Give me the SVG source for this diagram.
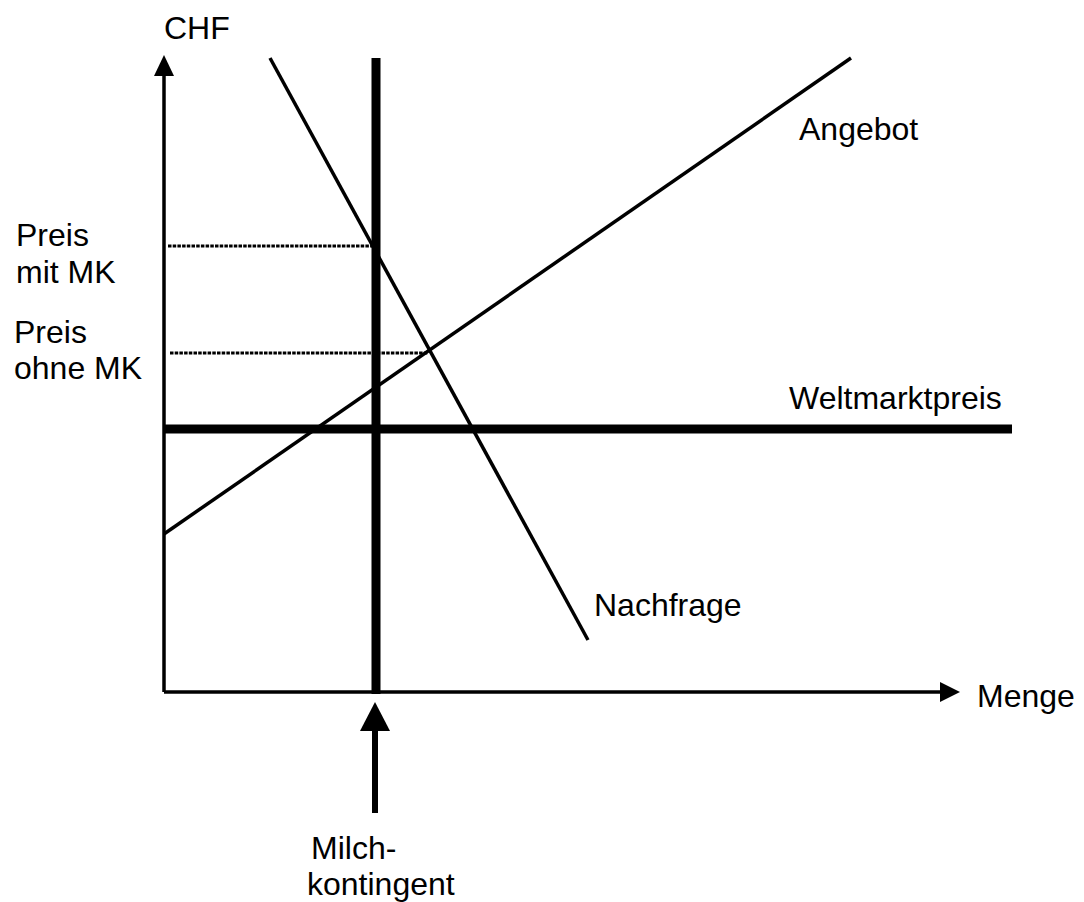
<svg xmlns="http://www.w3.org/2000/svg" width="1084" height="902" viewBox="0 0 1084 902">
<style>
text { font-family: "Liberation Sans", Arial, sans-serif; font-size: 32px; fill: #000; }
.thin { stroke: #000; stroke-width: 3.5; fill: none; }
.thick { stroke: #000; stroke-width: 9; fill: none; }
.dot { stroke: #000; stroke-width: 3; stroke-dasharray: 3.5 1.2; fill: none; }
</style>
<rect width="1084" height="902" fill="#fff"/>
<g id="connectors">
  <g id="y-axis">
    <line class="thin" x1="164" y1="692" x2="164" y2="74"/>
    <polygon points="164,55 154,76 174,76" fill="#000"/>
  </g>
  <g id="x-axis">
    <line class="thin" x1="164" y1="692" x2="942" y2="692"/>
    <polygon points="960,692 940,682 940,702" fill="#000"/>
  </g>
  <g id="angebot-line">
    <line class="thin" x1="164" y1="534" x2="851" y2="58"/>
  </g>
  <g id="nachfrage-line">
    <line class="thin" x1="270" y1="58" x2="588" y2="640"/>
  </g>
  <g id="weltmarkt-line">
    <line class="thick" x1="164" y1="429" x2="1012" y2="429"/>
  </g>
  <g id="kontingent-line">
    <line class="thick" x1="376" y1="58" x2="376" y2="694"/>
  </g>
  <g id="kontingent-arrow">
    <line x1="375" y1="729" x2="375" y2="813" stroke="#000" stroke-width="6"/>
    <polygon points="375,702 360,731 390,731" fill="#000"/>
  </g>
  <g id="price-lines">
    <line class="dot" x1="168" y1="246" x2="373" y2="246"/>
    <line class="dot" x1="170" y1="353" x2="428" y2="353"/>
  </g>
</g>
<g id="labels">
  <text id="chf" x="164" y="39">CHF</text>
  <text id="menge" x="977" y="707">Menge</text>
  <text id="angebot" x="799" y="140">Angebot</text>
  <text id="nachfrage" x="594" y="616">Nachfrage</text>
  <text id="weltmarktpreis" x="789" y="409">Weltmarktpreis</text>
  <text id="preis-mit" x="16"><tspan x="16" y="246">Preis</tspan><tspan x="16" y="283">mit MK</tspan></text>
  <text id="preis-ohne" x="14"><tspan x="14" y="343">Preis</tspan><tspan x="14" y="379">ohne MK</tspan></text>
  <text id="milchkontingent"><tspan x="311" y="859">Milch-</tspan><tspan x="307" y="895">kontingent</tspan></text>
</g>
</svg>
